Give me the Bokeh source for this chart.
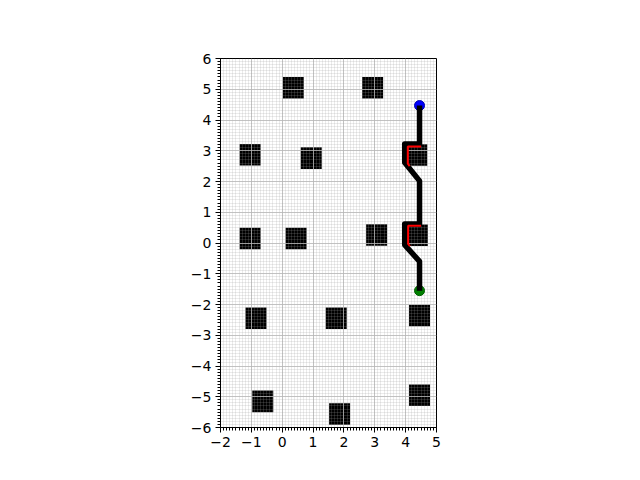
from bokeh.plotting import figure
from bokeh.models import Range1d, FixedTicker
from bokeh.embed import file_html
from bokeh.resources import INLINE

# obstacles (centres, data units)
obs_x = [0.36, 2.93, -1.04, 0.94, 4.36, -1.04, 0.45, 3.06, 4.38, -0.85, 1.75, 4.45, -0.63, 1.86, 4.45]
obs_y = [5.05, 5.05, 2.87, 2.76, 2.86, 0.15, 0.15, 0.26, 0.25, -2.45, -2.45, -2.36, -5.15, -5.56, -4.95]
obs_w = 0.68
obs_h = 0.70

# smoothed path
path_x = [4.45, 4.45, 3.97, 3.97, 4.45, 4.45, 3.97, 3.97, 4.45, 4.45]
path_y = [4.47, 3.22, 3.22, 2.62, 2.02, 0.62, 0.62, -0.06, -0.60, -1.55]

# raw path pieces (red)
red1_x = [4.50, 4.07, 4.07, 4.13]
red1_y = [3.14, 3.14, 2.58, 2.50]
red2_x = [4.50, 4.08, 4.08, 4.14]
red2_y = [0.56, 0.56, -0.03, -0.10]

start = (4.45, 4.47)
goal = (4.45, -1.55)

x_ticks = list(range(-2, 6))
y_ticks = list(range(-6, 7))
x_minor = [round(-2 + 0.1 * i, 2) for i in range(71)]
y_minor = [round(-6 + 0.1 * i, 2) for i in range(121)]


def lab(v):
    return str(v).replace("-", "\u2212")


p = figure(width=632, height=472, output_backend="svg", toolbar_location=None,
           x_range=Range1d(-2, 5), y_range=Range1d(-6, 6),
           min_border_left=220, min_border_right=196,
           min_border_top=58, min_border_bottom=45)
p.background_fill_color = "white"
p.border_fill_color = "white"
p.outline_line_color = "black"
p.outline_line_width = 1

p.xaxis.ticker = FixedTicker(ticks=x_ticks, minor_ticks=x_minor)
p.yaxis.ticker = FixedTicker(ticks=y_ticks, minor_ticks=y_minor)
p.xaxis.major_label_overrides = {v: lab(v) for v in x_ticks}
p.yaxis.major_label_overrides = {v: lab(v) for v in y_ticks}
for ax in (p.xaxis, p.yaxis):
    ax.major_label_text_font = "DejaVu Sans"
    ax.major_label_text_font_size = "14px"
    ax.major_label_text_color = "black"
    ax.major_tick_out = 5
    ax.major_tick_in = 0
    ax.minor_tick_out = 3
    ax.minor_tick_in = 0
    ax.axis_line_color = "black"
    ax.major_tick_line_color = "black"
    ax.minor_tick_line_color = "black"
    ax.major_label_standoff = 4

for g in (p.xgrid, p.ygrid):
    g.grid_line_color = "#b8b8b8"
    g.grid_line_width = 0.8
    g.minor_grid_line_color = "#a0a0a0"
    g.minor_grid_line_alpha = 0.35
    g.minor_grid_line_width = 0.6
    g.level = "underlay"

p.rect(x=obs_x, y=obs_y, width=obs_w, height=obs_h, fill_color="black",
       line_color=None, level="image")

p.scatter([goal[0]], [goal[1]], size=10, fill_color="#008000", line_color="#006000")
p.scatter([start[0]], [start[1]], size=10, fill_color="#0000ff", line_color="#0000b0")

p.line(path_x, path_y, line_color="black", line_width=5.5, line_join="round", line_cap="butt")
p.line(red1_x, red1_y, line_color="#ff0000", line_width=2)
p.line(red2_x, red2_y, line_color="#ff0000", line_width=2)

open("out.html", "w").write(file_html(p, INLINE))
